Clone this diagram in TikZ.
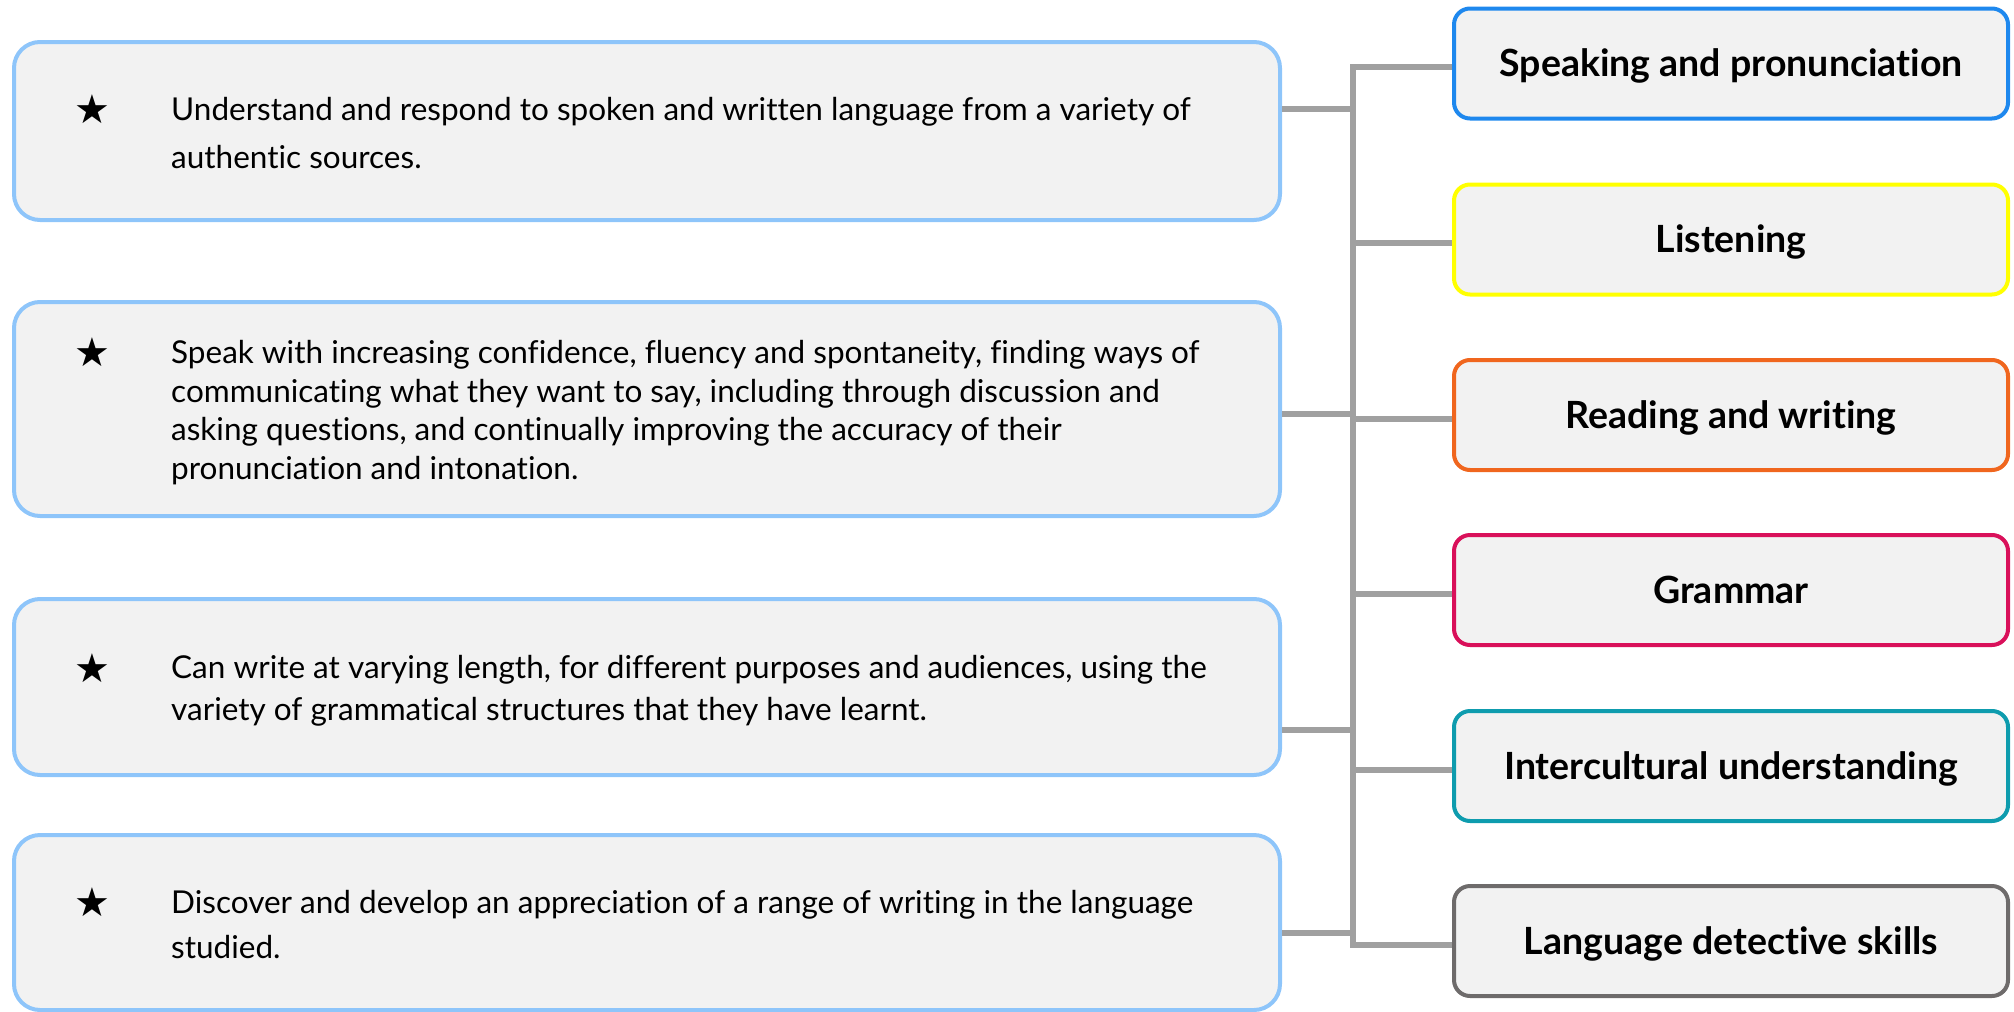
\documentclass[tikz,border=0pt]{standalone}
\usepackage{fontspec}
\setmainfont{Lato}[Ligatures=NoCommon]
\newfontfamily\symfont{DejaVu Sans}
\definecolor{boxfill}{HTML}{F2F2F2}
\definecolor{aimblue}{HTML}{8EC5FA}
\definecolor{linkgrey}{HTML}{A0A0A0}
\definecolor{speakblue}{HTML}{1E88EE}
\definecolor{listenyellow}{HTML}{FFFF00}
\definecolor{readorange}{HTML}{F0661E}
\definecolor{grammarred}{HTML}{D9105A}
\definecolor{cultureteal}{HTML}{0E9CAE}
\definecolor{detectgrey}{HTML}{6E6B6B}

\begin{document}
\begin{tikzpicture}[x=1pt,y=-1pt]
        \tikzstyle{aim}=[draw=aimblue,fill=boxfill,line width=4pt,rounded corners=26pt,minimum width=1266pt,inner sep=0pt]
        \tikzstyle{aimtext}=[anchor=west,align=left,inner sep=0pt]
        \tikzstyle{starmark}=[inner sep=0pt,font=\symfont\fontsize{40}{44}\selectfont]
        \tikzstyle{skill}=[fill=boxfill,line width=4pt,rounded corners=16pt,minimum width=554pt,minimum height=110pt,inner sep=0pt,text height=26pt,text depth=0pt,font=\fontsize{37.5}{44}\selectfont\bfseries]
        \tikzstyle{link}=[draw=linkgrey,line width=6pt]
        \useasboundingbox (0,0) rectangle (2014,1012);

        \node[aim,minimum height=178pt] (a1) at (647,131) {};
        \node[aim,minimum height=214pt] (a2) at (647,409) {};
        \node[aim,minimum height=176pt] (a3) at (647,687) {};
        \node[aim,minimum height=175pt] (a4) at (647,922.5) {};

        \node[starmark] (s1) at (92,109) {★};
        \node[starmark] (s2) at (92,352) {★};
        \node[starmark] (s3) at (92,668) {★};
        \node[starmark] (s4) at (92,902) {★};

        \node[aimtext,font=\fontsize{31.5}{48}\selectfont] (t1) at (171,133)
            {Understand and respond to spoken and written language from a variety of\\authentic sources.};
        \node[aimtext,font=\fontsize{31.5}{38.5}\selectfont] (t2) at (171,412.5)
            {Speak with increasing confidence, fluency and spontaneity, finding ways of\\communicating what they want to say, including through discussion and\\asking questions, and continually improving the accuracy of their\\pronunciation and intonation.};
        \node[aimtext,font=\fontsize{31.5}{42}\selectfont] (t3) at (171,691)
            {Can write at varying length, for different purposes and audiences, using the\\variety of grammatical structures that they have learnt.};
        \node[aimtext,font=\fontsize{31.5}{45}\selectfont] (t4) at (171,924.5)
            {Discover and develop an appreciation of a range of writing in the language\\studied.};

        \node[skill,draw=speakblue] (r1) at (1731,63.5) {Speaking and pronunciation};
        \node[skill,draw=listenyellow] (r2) at (1731,239.5) {Listening};
        \node[skill,draw=readorange] (r3) at (1731,415) {Reading and writing};
        \node[skill,draw=grammarred] (r4) at (1731,590) {Grammar};
        \node[skill,draw=cultureteal] (r5) at (1731,766) {Intercultural understanding};
        \node[skill,draw=detectgrey] (r6) at (1731,941) {Language detective skills};

        \coordinate (bus) at (1353,0);
        \foreach \i in {1,...,6}
            \path ([yshift=-3.5pt]r\i.west) coordinate (e\i);
        \draw[link,line cap=rect] (e1 -| bus) -- (e6 -| bus);
        \foreach \i in {1,...,6}
            \draw[link] (e\i -| bus) -- (e\i);
        \foreach \i/\y in {1/109,2/414,3/730,4/933}
            \draw[link] (a\i.east |- 0,\y) -- (bus |- 0,\y);
\end{tikzpicture}
\end{document}
